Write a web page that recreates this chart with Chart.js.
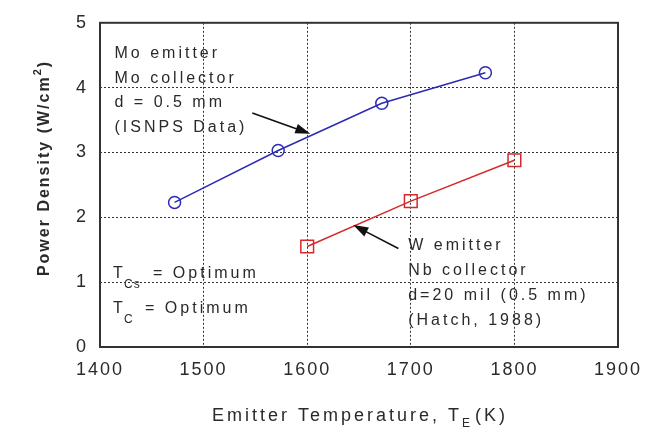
<!DOCTYPE html>
<html>
<head>
<meta charset="utf-8">
<script src="https://cdn.jsdelivr.net/npm/chart.js@4.4.1/dist/chart.umd.min.js"></script>
<style>
  html, body { margin: 0; padding: 0; background: #fff; }
  #wrap { width: 652px; height: 429px; position: relative; }
</style>
</head>
<body>
<div id="wrap"><canvas id="chart"></canvas></div>
<script>
// data
var moTemps = [1472, 1572, 1672, 1772];
var moPower = [2.23, 3.03, 3.76, 4.23];
var wTemps = [1600, 1700, 1800];
var wPower = [1.55, 2.25, 2.88];
var xTicks = [1400, 1500, 1600, 1700, 1800, 1900];
var yTicks = [0, 1, 2, 3, 4, 5];

var FONT = '"Liberation Sans", Arial, sans-serif';
var INK = '#2a2a2a';

function pts(xs, ys) {
  return xs.map(function (x, i) { return { x: x, y: ys[i] }; });
}

function arrow(ctx, x1, y1, x2, y2) {
  var a = Math.atan2(y2 - y1, x2 - x1);
  var len = 15, half = 5;
  ctx.save();
  ctx.strokeStyle = '#111';
  ctx.fillStyle = '#111';
  ctx.lineWidth = 1.6;
  ctx.beginPath();
  ctx.moveTo(x1, y1);
  ctx.lineTo(x2 - Math.cos(a) * len * 0.8, y2 - Math.sin(a) * len * 0.8);
  ctx.stroke();
  ctx.beginPath();
  ctx.moveTo(x2, y2);
  ctx.lineTo(x2 - Math.cos(a) * len - Math.sin(a) * half, y2 - Math.sin(a) * len + Math.cos(a) * half);
  ctx.lineTo(x2 - Math.cos(a) * len + Math.sin(a) * half, y2 - Math.sin(a) * len - Math.cos(a) * half);
  ctx.closePath();
  ctx.fill();
  ctx.restore();
}

var notes = {
  id: 'notes',
  beforeDraw: function (chart) {
    chart.ctx.letterSpacing = '2px';
  },
  beforeDatasetsDraw: function (chart) {
    var ctx = chart.ctx, a = chart.chartArea;
    ctx.save();
    ctx.strokeStyle = '#333';
    ctx.lineWidth = 2;
    ctx.strokeRect(a.left, a.top, a.right - a.left, a.bottom - a.top);
    ctx.restore();
  },
  afterDraw: function (chart) {
    var ctx = chart.ctx;
    var sx = chart.scales.x, sy = chart.scales.y;
    function px(v) { return sx.getPixelForValue(v); }
    function py(v) { return sy.getPixelForValue(v); }

    ctx.save();
    ctx.fillStyle = INK;
    ctx.textAlign = 'left';
    ctx.textBaseline = 'alphabetic';
    ctx.letterSpacing = '3px';
    ctx.font = '16px ' + FONT;

    var lx = px(1414);
    ['Mo emitter', 'Mo collector', 'd = 0.5 mm', '(ISNPS Data)'].forEach(function (t, i) {
      ctx.fillText(t, lx, py(4.45) + i * 24.5);
    });
    var rx = px(1697.5);
    ['W emitter', 'Nb collector', 'd=20 mil (0.5 mm)', '(Hatch, 1988)'].forEach(function (t, i) {
      ctx.fillText(t, rx, py(1.5) + i * 25);
    });

    // T_Cs / T_C lines
    var tx = px(1412.6);
    var y1 = py(1.06), y2 = py(0.53);
    ctx.font = '16px ' + FONT;
    ctx.fillText('T', tx, y1);
    ctx.fillText('= Optimum', tx + 40, y1);
    ctx.fillText('T', tx, y2);
    ctx.fillText('= Optimum', tx + 32, y2);
    ctx.font = '12px ' + FONT;
    ctx.letterSpacing = '1px';
    ctx.fillText('Cs', tx + 11, y1 + 10);
    ctx.fillText('C', tx + 11, y2 + 10);

    arrow(ctx, px(1547), py(3.61), px(1603), py(3.29));
    arrow(ctx, px(1688), py(1.52), px(1644.5), py(1.88));

    // x axis title with subscript
    ctx.letterSpacing = '3px';
    ctx.font = '18px ' + FONT;
    var x0 = 212, base = 421;
    var part1 = 'Emitter Temperature, T';
    ctx.fillText(part1, x0, base);
    var w1 = ctx.measureText(part1).width;
    ctx.font = '12px ' + FONT;
    ctx.fillText('E', x0 + w1, base + 6);
    var w2 = ctx.measureText('E').width;
    ctx.font = '18px ' + FONT;
    ctx.fillText('(K)', x0 + w1 + w2 + 2, base);

    // y axis title with superscript
    ctx.translate(45, 168);
    ctx.rotate(-Math.PI / 2);
    ctx.letterSpacing = '2px';
    ctx.textBaseline = 'middle';
    var b1 = 'Power Density (W/cm', b2 = '2', b3 = ')';
    ctx.font = 'bold 16px ' + FONT;
    var wa = ctx.measureText(b1).width, wc = ctx.measureText(b3).width;
    ctx.font = 'bold 11px ' + FONT;
    var wb = ctx.measureText(b2).width;
    var start = -(wa + wb + wc) / 2;
    ctx.font = 'bold 16px ' + FONT;
    ctx.fillText(b1, start, 0);
    ctx.fillText(b3, start + wa + wb, 0);
    ctx.font = 'bold 11px ' + FONT;
    ctx.fillText(b2, start + wa, -7);
    ctx.restore();
  }
};

var gridOpts = { color: '#333', lineWidth: 1, drawTicks: false };

new Chart(document.getElementById('chart'), {
  type: 'scatter',
  data: {
    datasets: [{
      label: 'Mo emitter / Mo collector (ISNPS Data)',
      data: pts(moTemps, moPower),
      showLine: true,
      borderColor: '#2b2bb5',
      borderWidth: 1.5,
      pointStyle: 'circle',
      pointRadius: 6,
      pointBorderWidth: 1.5,
      pointBorderColor: '#2b2bb5',
      pointBackgroundColor: 'rgba(0,0,0,0)'
    }, {
      label: 'W emitter / Nb collector (Hatch, 1988)',
      data: pts(wTemps, wPower),
      showLine: true,
      borderColor: '#d42a2a',
      borderWidth: 1.5,
      pointStyle: 'rect',
      pointRadius: 9,
      pointBorderWidth: 1.5,
      pointBorderColor: '#d42a2a',
      pointBackgroundColor: 'rgba(0,0,0,0)'
    }]
  },
  options: {
    responsive: true,
    maintainAspectRatio: false,
    animation: false,
    layout: { padding: { top: 17, right: 34, left: 0, bottom: 0 } },
    plugins: { legend: { display: false }, tooltip: { enabled: false } },
    scales: {
      x: {
        type: 'linear',
        min: 1400,
        max: 1900,
        afterBuildTicks: function (s) { s.ticks = xTicks.map(function (v) { return { value: v }; }); },
        afterFit: function (s) { s.height = 82; },
        grid: gridOpts,
        border: { display: false, dash: [2, 2] },
        ticks: {
          color: INK, font: { family: FONT, size: 18 }, padding: 12, maxRotation: 0,
          callback: function (v) { return String(v); }
        }
      },
      y: {
        min: 0,
        max: 5,
        afterBuildTicks: function (s) { s.ticks = yTicks.map(function (v) { return { value: v }; }); },
        afterFit: function (s) { s.width = 100; },
        grid: gridOpts,
        border: { display: false, dash: [2, 2] },
        ticks: {
          color: INK, font: { family: FONT, size: 18 }, padding: 12,
          callback: function (v) { return String(v); }
        }
      }
    }
  },
  plugins: [notes]
});
</script>
</body>
</html>
